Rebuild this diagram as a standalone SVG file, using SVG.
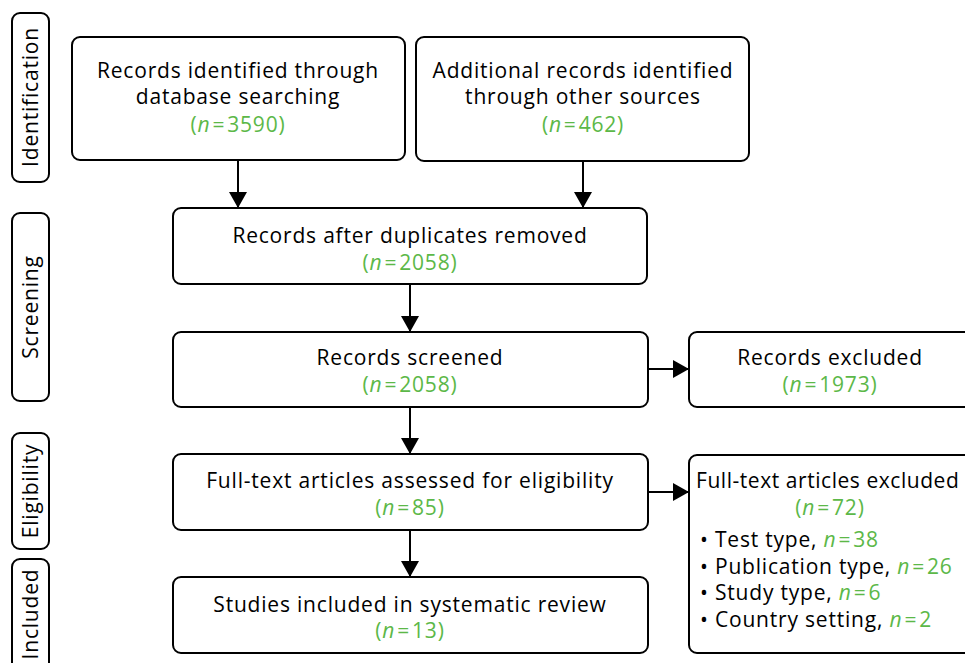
<svg xmlns="http://www.w3.org/2000/svg" width="965" height="663" viewBox="0 0 965 663">
<style>
.b{fill:#fff;stroke:#000;stroke-width:2}
.t{font-family:"Open Sans","Noto Sans","Liberation Sans",sans-serif;font-size:21px;letter-spacing:0.8px;fill:#000}
.c{text-anchor:middle}
.g{fill:#5cb848}
.i{font-style:italic}
.e{stroke:#000;stroke-width:2;fill:none}
</style>
<defs>
<marker id="ah" viewBox="0 0 16 18" refX="16" refY="9" markerWidth="16" markerHeight="18" markerUnits="userSpaceOnUse" orient="auto">
<path d="M0,0 L16,9 L0,18 Z" fill="#000"/>
</marker>
</defs>
<rect width="965" height="663" fill="#fff"/>
<g id="stage-identification"><rect class="b" x="12" y="13" width="37" height="169" rx="8"/><text class="t c" transform="translate(38,97) rotate(-90)">Identification</text></g>
<g id="stage-screening"><rect class="b" x="12" y="213" width="37" height="188" rx="8"/><text class="t c" transform="translate(38,307) rotate(-90)">Screening</text></g>
<g id="stage-eligibility"><rect class="b" x="12" y="433" width="37" height="116" rx="8"/><text class="t c" transform="translate(38,491) rotate(-90)">Eligibility</text></g>
<g id="stage-included"><rect class="b" x="12" y="559" width="37" height="112" rx="8"/><text class="t c" transform="translate(38,614) rotate(-90)">Included</text></g>

<g id="connectors">
<line class="e" x1="238" y1="160" x2="238" y2="208" marker-end="url(#ah)"/>
<line class="e" x1="583" y1="161" x2="583" y2="208" marker-end="url(#ah)"/>
<line class="e" x1="410" y1="284" x2="410" y2="332" marker-end="url(#ah)"/>
<line class="e" x1="410" y1="407" x2="410" y2="454" marker-end="url(#ah)"/>
<line class="e" x1="410" y1="530" x2="410" y2="577" marker-end="url(#ah)"/>
<line class="e" x1="648" y1="369" x2="689" y2="369" marker-end="url(#ah)"/>
<line class="e" x1="648" y1="492" x2="689" y2="492" marker-end="url(#ah)"/>
</g>

<g id="n-database"><rect class="b" x="72" y="37" width="333" height="123" rx="8"/>
<text class="t c" x="238" y="78">Records identified through</text>
<text class="t c" x="238" y="104">database searching</text>
<text class="t c g" x="238" y="132">(<tspan class="i">n</tspan><tspan dx="2">=</tspan><tspan dx="2">3590)</tspan></text></g>

<g id="n-other"><rect class="b" x="416" y="37" width="333" height="124" rx="8"/>
<text class="t c" x="583" y="78">Additional records identified</text>
<text class="t c" x="583" y="104">through other sources</text>
<text class="t c g" x="583" y="132">(<tspan class="i">n</tspan><tspan dx="2">=</tspan><tspan dx="2">462)</tspan></text></g>

<g id="n-dedup"><rect class="b" x="173" y="208" width="474" height="76" rx="8"/>
<text class="t c" x="410" y="243">Records after duplicates removed</text>
<text class="t c g" x="410" y="270">(<tspan class="i">n</tspan><tspan dx="2">=</tspan><tspan dx="2">2058)</tspan></text></g>

<g id="n-screened"><rect class="b" x="173" y="332" width="475" height="75" rx="8"/>
<text class="t c" x="410" y="365">Records screened</text>
<text class="t c g" x="410" y="392">(<tspan class="i">n</tspan><tspan dx="2">=</tspan><tspan dx="2">2058)</tspan></text></g>

<g id="n-excluded"><rect class="b" x="689" y="332" width="290" height="75" rx="8"/>
<text class="t c" x="830" y="365">Records excluded</text>
<text class="t c g" x="830" y="392">(<tspan class="i">n</tspan><tspan dx="2">=</tspan><tspan dx="2">1973)</tspan></text></g>

<g id="n-fulltext"><rect class="b" x="173" y="454" width="475" height="76" rx="8"/>
<text class="t c" x="410" y="488">Full-text articles assessed for eligibility</text>
<text class="t c g" x="410" y="515">(<tspan class="i">n</tspan><tspan dx="2">=</tspan><tspan dx="2">85)</tspan></text></g>

<g id="n-ftexcluded"><rect class="b" x="689" y="455" width="290" height="198" rx="8"/>
<text class="t" x="696" y="488" style="letter-spacing:0.55px">Full-text articles excluded</text>
<text class="t c g" x="830" y="515">(<tspan class="i">n</tspan><tspan dx="2">=</tspan><tspan dx="2">72)</tspan></text>
<text class="t" x="700" y="547">• Test type, <tspan class="g"><tspan class="i">n</tspan><tspan dx="2">=</tspan><tspan dx="2">38</tspan></tspan></text>
<text class="t" x="700" y="574">• Publication type, <tspan class="g"><tspan class="i">n</tspan><tspan dx="2">=</tspan><tspan dx="2">26</tspan></tspan></text>
<text class="t" x="700" y="600">• Study type, <tspan class="g"><tspan class="i">n</tspan><tspan dx="2">=</tspan><tspan dx="2">6</tspan></tspan></text>
<text class="t" x="700" y="627">• Country setting, <tspan class="g"><tspan class="i">n</tspan><tspan dx="2">=</tspan><tspan dx="2">2</tspan></tspan></text></g>

<g id="n-included"><rect class="b" x="173" y="577" width="475" height="76" rx="8"/>
<text class="t c" x="410" y="612">Studies included in systematic review</text>
<text class="t c g" x="410" y="638">(<tspan class="i">n</tspan><tspan dx="2">=</tspan><tspan dx="2">13)</tspan></text></g>
</svg>
